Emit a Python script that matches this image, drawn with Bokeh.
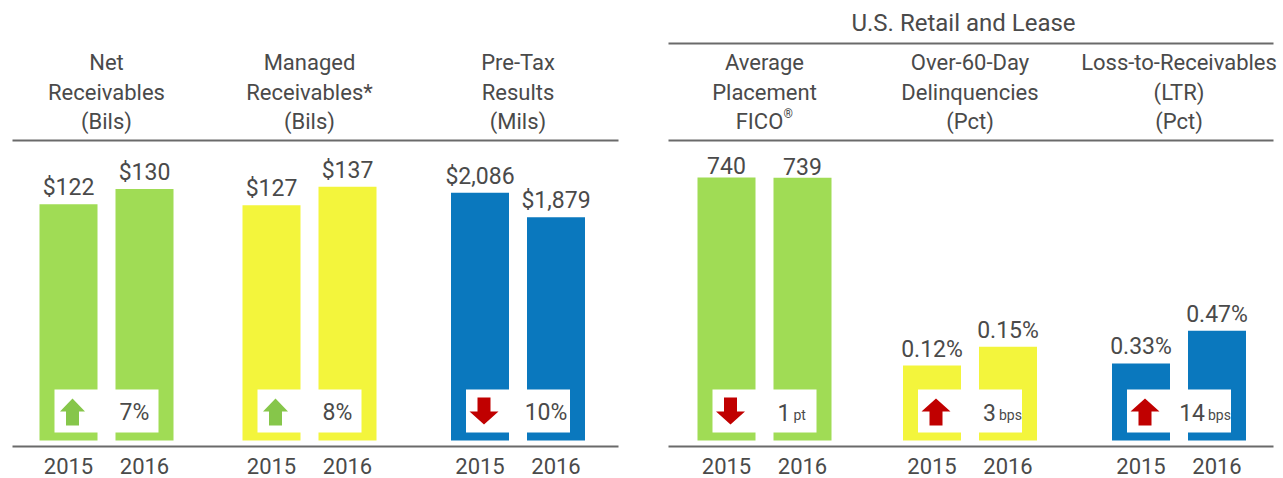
from bokeh.plotting import figure
from bokeh.models import Range1d
from bokeh.core.properties import value
from bokeh.embed import file_html
from bokeh.resources import INLINE

# ---------------- data ----------------
years = ["2015", "2016"]
titles = [
    ["Net", "Receivables", "(Bils)"],
    ["Managed", "Receivables*", "(Bils)"],
    ["Pre-Tax", "Results", "(Mils)"],
    ["Average", "Placement", "FICO®"],
    ["Over-60-Day", "Delinquencies", "(Pct)"],
    ["Loss-to-Receivables", "(LTR)", "(Pct)"],
]
group_title = "U.S. Retail and Lease"
values_2015 = [122, 127, 2086, 740, 0.12, 0.33]
values_2016 = [130, 137, 1879, 739, 0.15, 0.47]
value_formats = ["${:,.0f}", "${:,.0f}", "${:,.0f}", "{:.0f}", "{:.2f}%", "{:.2f}%"]
change_amount = ["7%", "8%", "10%", "1", "3", "14"]
change_unit = ["", "", "", "pt", "bps", "bps"]
change_dir = ["up", "up", "down", "down", "up", "up"]
favorable = [True, True, False, False, False, False]

# ---------------- style / layout ----------------
FONT = value("Roboto")
TXT = "#4a4a4a"
LINE = "#6a6a6a"
GREEN, YELLOW, BLUE = "#a0dc55", "#f3f53c", "#0a78be"
bar_colors = [GREEN, YELLOW, BLUE, GREEN, YELLOW, BLUE]
arrow_good, arrow_bad = "#86c64a", "#c00000"
panel_cx = [106, 309, 517.5, 764, 969.5, 1178.5]
scale_top = [155, 162, 2525, 844, 0.48, 1.285]   # value drawn 300px tall
BAR_W, HALF_GAP = 58, 38
BASE, TOP = 440, 140
W, H = 1283, 478

p = figure(width=W, height=H, x_range=Range1d(0, W), y_range=Range1d(H, 0),
           output_backend="svg", toolbar_location=None, min_border=0,
           x_axis_location=None, y_axis_location=None)
p.grid.visible = False
p.outline_line_color = None
p.background_fill_color = "white"
p.border_fill_color = "white"

for i in range(6):
    t = scale_top[i]
    p.extra_y_ranges[f"v{i}"] = Range1d(-t * (H - BASE) / (BASE - TOP), t * BASE / (BASE - TOP))


def txt(x, y, text, size, align="center", baseline="middle", **kw):
    p.text(x=x, y=y, text=text, text_font=FONT, text_font_size=size, text_color=TXT,
           text_align=align, text_baseline=baseline, **kw)


# rules
for x0, x1, ys in [(12, 618, [140, 446]), (668, 1273, [43, 140, 446])]:
    for yy in ys:
        p.segment(x0=[x0], y0=[yy], x1=[x1], y1=[yy], line_color=LINE, line_width=2)

txt([963], [22], [group_title], "24px")

for i in range(6):
    cx = panel_cx[i]
    xs = [cx - HALF_GAP, cx + HALF_GAP]
    vals = [values_2015[i], values_2016[i]]
    rn = f"v{i}"
    # title
    for line, yy in zip(titles[i], [62, 92, 121]):
        if line.endswith("®"):
            txt([cx - 5], [yy], [line[:-1]], "22px")
            txt([cx + 19], [yy - 8], ["®"], "12px", align="left")
        else:
            txt([cx], [yy], [line], "22px")
    # bars
    p.vbar(x=xs, width=BAR_W, top=vals, bottom=0, y_range_name=rn,
           fill_color=bar_colors[i], line_color=None)
    # value labels
    txt(xs, vals, [value_formats[i].format(v) for v in vals], "23px",
        baseline="bottom", y_range_name=rn, y_offset=-3)
    # years
    txt(xs, [465, 465], years, "22px")
    # change box
    left = xs[0] - BAR_W / 2 + 15
    right = xs[1] + BAR_W / 2 - 15
    p.quad(left=[left], right=[right], top=[389], bottom=[432], fill_color="white", line_color=None)
    # arrow
    ax, ay = xs[0] + 4, 411
    hw = 12.5 if favorable[i] else 14.5
    sw, hh, sh = 6.5, 13, 14
    px = [ax - sw, ax - sw, ax - hw, ax, ax + hw, ax + sw, ax + sw]
    py = [ay + sh, ay, ay, ay - hh, ay, ay, ay + sh]
    if change_dir[i] == "down":
        py = [2 * ay - v for v in py]
    p.patch(x=px, y=py, fill_color=arrow_good if favorable[i] else arrow_bad, line_color=None)
    # change text
    if change_unit[i]:
        anchor = xs[1] - 12
        txt([anchor], [412], [change_amount[i]], "23px", align="right")
        txt([anchor + 3], [414], [change_unit[i]], "14px", align="left")
    else:
        txt([xs[1] - 10], [412], [change_amount[i]], "23px")

open("out.html", "w").write(file_html(p, INLINE))
